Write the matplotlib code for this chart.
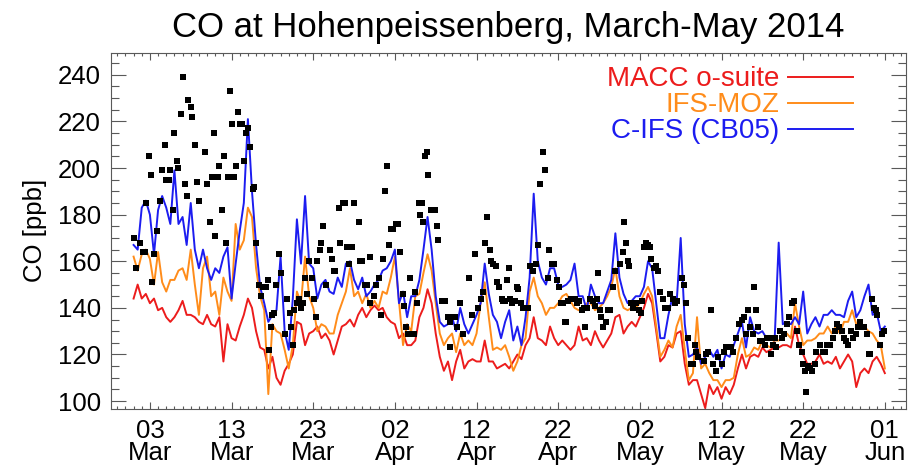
import numpy as np
import matplotlib
matplotlib.use('Agg')
import matplotlib.pyplot as plt
from matplotlib.ticker import MultipleLocator, FixedLocator

plt.rcParams['font.family'] = ['Liberation Sans', 'DejaVu Sans']

# Model output, days since 1 March 2014 (every 12 h), CO in ppb
model_days = np.arange(0, 92.01, 0.5)
macc = [144, 150, 144, 146, 142, 144, 139, 140, 136, 134, 136, 139, 143, 137, 137, 136, 134, 133, 137, 133,
        132, 136, 117, 133, 127, 126, 132, 137, 144, 140, 130, 123, 122, 114, 119, 110, 107, 113, 116, 120, 134,
        133, 124, 129, 130, 132, 127, 129, 126, 120, 126, 132, 133, 135, 132, 137, 140, 136, 139, 141, 139,
        140, 136, 134, 133, 127, 129, 124, 124, 126, 136, 140, 148, 142, 129, 119, 113, 117, 109, 117, 122,
        114, 117, 118, 117,
        117, 126, 117, 117, 114, 115, 116, 114, 117, 120, 118, 124, 127, 136, 127, 126, 124, 132, 127, 124,
        126, 124, 122, 124, 132, 126, 127, 124, 130, 126, 123, 126, 129, 136, 137, 129, 132, 134, 132, 136,
        140, 146, 142, 130,
        117, 119, 124, 123, 129, 130, 116, 107, 109, 109, 103, 97, 107, 103, 106, 101, 106, 103, 107, 114,
        120, 114, 119, 120, 119, 123, 121, 122, 123, 123, 124, 124, 123, 132, 124, 120, 116, 116, 117, 120,
        116, 117, 116, 119, 114, 117, 120, 117, 106, 112, 114, 112, 117, 119, 116, 112]
ifs_moz = [162, 156, 163, 165, 161, 150, 164, 151, 147, 152, 152, 156, 157, 152, 165, 150, 137, 157, 162, 145,
           147, 137, 153, 147, 143, 176, 165, 169, 183, 179, 157, 145, 139, 103, 133, 130, 129, 122, 114, 124, 147,
           142, 162, 145, 140, 130, 133, 132, 129, 129, 137, 142, 147, 157, 145, 147, 142, 146, 140, 143, 140,
           147, 146, 153, 162, 143, 124, 133, 130, 145, 146, 155, 163, 156, 142, 129, 124, 127, 129, 121, 129,
           124, 126, 124, 129,
           142, 151, 136, 122, 123, 122, 124, 119, 113, 117, 124, 127, 147, 153, 145, 142, 137, 140, 140, 142,
           145, 146, 143, 140, 139, 140, 142, 142, 139, 140, 142, 145, 149, 157, 145, 140, 139, 140, 140, 142,
           146, 149, 145, 132,
           119, 122, 126, 123, 132, 137, 122, 109, 112, 136, 114, 116, 112, 109, 109, 106, 109, 109, 110, 120,
           127, 119, 120, 123, 122, 126, 124, 123, 126, 126, 127, 129, 127, 142, 132, 124, 126, 126, 127, 129,
           129, 132, 129, 132, 129, 134, 134, 139, 133, 132, 132, 130, 129, 126, 124, 114]
c_ifs = [167, 165, 183, 186, 180, 163, 182, 188, 183, 176, 199, 176, 179, 167, 185, 165, 157, 165, 157, 152,
         157, 155, 162, 166, 144, 159, 173, 185, 221, 190, 167, 149, 142, 134, 137, 139, 162, 130, 122, 144, 178,
         159, 188, 159, 157, 144, 150, 152, 147, 146, 153, 149, 159, 160, 152, 148, 153, 145, 147, 150, 152,
         156, 157, 160, 165, 142, 147, 136, 145, 145, 152, 165, 179, 165, 145, 134, 132, 133, 136, 130, 140,
         133, 129, 133, 137,
         142, 159, 146, 137, 134, 127, 134, 139, 126, 132, 124, 136, 153, 189, 160, 153, 150, 157, 157, 150,
         149, 150, 152, 159, 145, 145, 139, 150, 145, 142, 142, 147, 152, 172, 153, 146, 142, 143, 145, 145,
         149, 160, 157, 142,
         127, 127, 137, 145, 142, 170, 133, 119, 120, 123, 116, 119, 122, 119, 122, 114, 120, 119, 124, 129,
         134, 123, 136, 130, 129, 130, 127, 127, 126, 168, 133, 134, 133, 136, 133, 147, 129, 133, 136, 132,
         137, 137, 139, 137, 137, 136, 143, 147, 136, 139, 145, 150, 137, 138, 130, 132]

# Observations at Hohenpeissenberg
obs_days = [0.0, 0.3, 0.8, 1.1, 1.4, 1.5, 1.9, 2.1, 2.3, 2.5, 2.9, 3.2, 3.5, 3.8, 4.0, 4.3, 4.5, 4.8, 5.0, 5.3,
            5.5, 5.8, 6.0, 6.3, 6.5, 6.7, 7.0, 7.2, 7.5, 7.8, 8.0, 8.8, 9.0, 9.3, 9.6, 9.8, 10.0, 10.3, 10.5, 10.8,
            11.1, 11.3, 11.6, 11.8, 12.0, 12.3, 12.5, 12.8, 13.0, 13.3, 13.5, 13.8, 14.0, 14.3, 14.6, 14.8, 15.0,
            15.3, 15.6, 15.9, 16.2, 16.4, 16.6, 16.8, 17.0, 17.2, 17.5, 17.8, 18.1, 18.6, 18.8, 19.1, 19.3, 19.5,
            19.6, 20.0,
            20.2, 20.5, 20.8, 21.0, 21.2, 21.5, 21.8, 22.1, 22.4, 22.5, 22.8, 23.0, 23.2, 23.6, 24.0, 24.3, 24.5,
            24.7, 25.1, 25.3, 25.6, 25.9, 26.1, 26.4, 26.7, 27.0, 27.6, 27.7, 28.0, 28.3, 28.6, 28.9, 29.0, 29.4,
            29.7, 30.0, 30.3, 30.6, 30.8, 31.0, 31.3, 31.5, 31.8, 32.1, 32.4, 32.6, 33.0, 33.1, 33.4, 33.6, 33.8,
            34.0, 34.3, 34.5, 34.7, 34.9, 35.1, 35.3, 35.5, 35.7, 35.9, 36.1, 36.4, 36.6, 36.9, 37.1, 37.3, 37.8,
            38.1, 38.5, 38.7, 38.8, 39.1, 39.4, 39.6, 40.0, 40.3, 41.1, 41.5, 41.8, 42.2,
            42.5, 42.8, 43.0, 43.3, 43.6, 43.8, 44.0, 44.4, 44.5, 44.8, 45.1, 45.2, 45.5, 45.7, 46.0, 46.1, 46.3,
            46.7, 46.9, 47.1, 47.4, 47.7, 48.1, 48.3, 48.6, 48.9, 49.3, 49.5, 49.8, 50.1, 50.4, 50.7, 50.9, 51.2,
            51.5, 51.9, 52.1, 52.4, 52.6, 52.8, 53.0, 53.2, 53.6, 54.0, 54.3, 54.6, 54.9, 55.1, 55.3, 55.5, 55.9,
            56.2, 56.5, 56.7, 56.9, 57.1, 57.3, 57.5, 57.8, 58.1, 58.3, 58.7, 58.9, 59.6, 59.9, 60.0, 60.3, 60.5,
            60.7, 60.9, 61.2, 61.5, 61.9, 62.2, 62.3, 62.5, 62.7, 63.0, 63.2, 63.4, 63.7, 64.0, 64.2,
            64.5, 64.8, 65.1, 65.4, 65.7, 66.0, 66.3, 66.6, 67.1, 67.4, 67.6, 67.9, 68.3, 68.5, 68.7, 68.9, 69.1,
            69.8, 70.1, 70.4, 70.7, 71.0, 71.3, 71.6, 72.0, 72.3, 72.6, 73.1, 73.4, 73.8, 74.2, 74.5, 74.7, 75.0,
            75.3, 75.5, 75.8, 76.0, 76.2, 76.5, 76.7, 77.0, 77.3, 77.6, 77.9, 78.1, 78.3, 78.5, 78.7, 79.1, 79.4,
            79.6, 80.0, 80.3, 80.6, 80.9, 81.2, 81.5, 81.8, 82.0, 82.2, 82.4, 82.6, 82.8, 83.1, 83.4, 83.6, 84.0,
            84.4, 84.7, 84.9, 85.3, 85.6, 85.9, 86.2, 86.4, 86.7, 87.0, 87.3, 87.5, 87.8, 88.1, 88.5, 88.7, 89.0,
            89.4, 89.8, 90.0, 90.2, 90.4, 90.7, 90.9, 91.1, 91.4, 91.7, 91.9]
obs_co = [170, 157, 168, 164, 164, 185, 205, 197, 151, 163, 173, 186, 199, 210, 195, 195, 199, 182, 215, 203,
          200, 223, 239, 193, 188, 229, 226, 222, 210, 194, 186, 207, 193, 177, 196, 215, 171, 196, 201, 182,
          205, 168, 196, 233, 219, 196, 201, 224, 219, 219, 203, 215, 217, 209, 191, 192, 168,
          150, 145, 149, 149, 152, 122, 132, 137, 138, 150, 163, 155, 129, 144, 138, 132, 124,
          139, 142,
          144, 140, 142, 153, 146, 160, 153, 144, 136, 160, 165, 168, 175, 150, 165, 161, 156,
          156, 183, 168, 185, 185, 166, 159, 166, 185, 177, 160, 160, 150, 150, 162, 142, 145,
          150, 153, 137, 161, 190, 201, 167, 174, 174, 176, 176, 164, 146, 141, 132, 129, 153,
          129, 129, 147, 142, 185, 180, 185, 177, 205, 207, 197, 182, 182, 182, 175, 169, 143,
          143, 136, 123, 134, 136, 136, 132, 142, 129, 153, 137, 163, 140,
          144, 147, 168, 179, 165, 160, 159, 158, 151, 149, 144, 143, 143, 152, 157, 144, 142,
          143, 149, 148, 142, 140, 140, 140, 158, 156, 159, 167, 193, 207, 199, 153, 165, 159,
          159, 152, 149, 142, 142, 134, 134, 143, 144, 144, 142, 143, 139, 140, 132, 140, 144,
          143, 141, 144, 155, 139, 136, 132, 134, 139, 139, 149, 156, 159, 164, 177, 168, 160,
          158, 142, 140, 142, 139, 138, 143, 166, 168, 167, 166, 161, 157, 158, 156,
          147, 144, 140, 140, 146, 144, 142, 143, 153, 150, 142, 127, 116, 116, 124, 121, 119,
          117, 120, 121, 139, 116, 113, 119, 116, 121, 123, 123, 121, 127, 133, 135, 136, 129,
          139, 132, 129, 149, 139, 132, 126, 126, 124, 127, 127, 120, 124, 127, 123, 130, 127,
          129, 133, 136, 142, 143, 130, 124, 121, 116, 113, 104, 115, 114, 113, 116, 121, 124,
          121, 121, 124, 124, 127, 130, 133, 132, 130, 127, 126, 124, 130, 127, 129, 132, 134,
          132, 129, 120, 120, 144, 140, 139, 137, 124, 129, 130]

tick_days = [2, 12, 22, 32, 42, 52, 62, 72, 82, 92]
tick_labels = ['03\nMar', '13\nMar', '23\nMar', '02\nApr', '12\nApr', '22\nApr',
               '02\nMay', '12\nMay', '22\nMay', '01\nJun']
names = ['MACC o-suite', 'IFS-MOZ', 'C-IFS (CB05)']
colors = ['#ec1c1c', '#ff8c1a', '#1c1cf0']

fig = plt.figure(figsize=(9.12, 4.71), dpi=100)
ax = fig.add_axes([0.1214, 0.1316, 0.8721, 0.7565])

for vals, name, col in zip([macc, ifs_moz, c_ifs], names, colors):
    ax.plot(model_days, vals, color=col, lw=1.4, label=name)
ax.plot(obs_days, obs_co, 's', color='k', ms=3.8, mew=0)

ax.set_xlim(-2.8, 94.6)
ax.set_ylim(96.6, 249.5)
ax.xaxis.set_major_locator(FixedLocator(tick_days))
ax.set_xticklabels(tick_labels, linespacing=0.9)
ax.xaxis.set_minor_locator(MultipleLocator(1))
ax.yaxis.set_major_locator(MultipleLocator(20))
ax.yaxis.set_minor_locator(MultipleLocator(5))
ax.tick_params(axis='both', which='both', direction='in', top=True, right=True,
               labelsize=18.5, color='0.35', width=0.8)
ax.tick_params(axis='x', which='major', length=5, pad=7)
ax.tick_params(axis='x', which='minor', length=2.5)
ax.tick_params(axis='y', which='major', length=11, pad=7)
ax.tick_params(axis='y', which='minor', length=5.5)
for sp in ax.spines.values():
    sp.set_color('0.35')
    sp.set_linewidth(0.8)

ax.set_ylabel('CO [ppb]', fontsize=18.5, labelpad=8)
ax.set_title('CO at Hohenpeissenberg, March-May 2014', fontsize=25, pad=11)

ax.legend(loc='upper right', bbox_to_anchor=(0.933, 0.962), frameon=False, fontsize=20,
          markerfirst=False, labelcolor='linecolor', handlelength=2.35, handletextpad=0.3,
          labelspacing=0.0, borderpad=0, borderaxespad=0)

plt.savefig('out.png', dpi=100)
